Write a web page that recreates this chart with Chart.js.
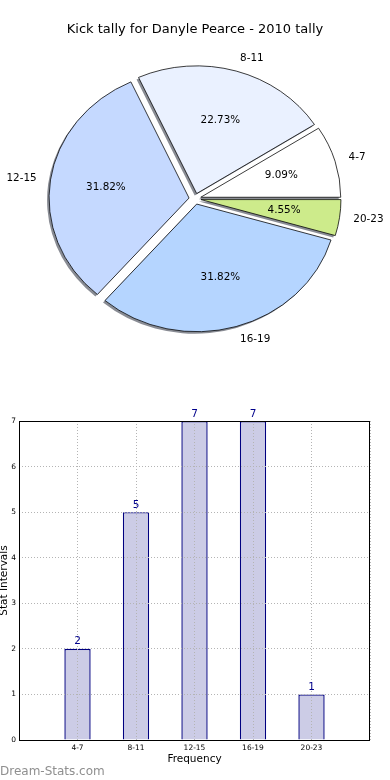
<!DOCTYPE html>
<html>
<head>
<meta charset="utf-8">
<script src="https://cdn.jsdelivr.net/npm/chart.js@4.4.1/dist/chart.umd.min.js"></script>
<style>
  html, body { margin: 0; padding: 0; background: #fff; }
  #pieBox { position: absolute; left: 0; top: 0; width: 390px; height: 360px; }
  #barBox { position: absolute; left: 0; top: 360px; width: 390px; height: 420px; }
</style>
</head>
<body>
<div id="pieBox"><canvas id="pieChart"></canvas></div>
<div id="barBox"><canvas id="barChart"></canvas></div>
<script>
// ── data ─────────────────────────────────────────────────────────────────────
const chartTitle = 'Kick tally for Danyle Pearce - 2010 tally';
const categories = ['4-7', '8-11', '12-15', '16-19', '20-23'];
const kicks = [2, 5, 7, 7, 1];
const pieColors = ['#ffffff', '#eaf1ff', '#c5d9ff', '#b5d5ff', '#cdeb8b'];
const yMax = 7;
const xTitle = 'Frequency';
const yTitle = 'Stat Intervals';
const watermark = 'Dream-Stats.com';

Chart.defaults.font.family = '"DejaVu Sans", sans-serif';
Chart.defaults.color = '#000';

// ── pie (matplotlib style: counter-clockwise, exploded, squashed, shadowed) ──
const SY = 0.912;     // vertical squash of the pie
const EXPLODE = 6;    // px each wedge is pushed out
const SHADOW = 2;     // shadow offset, left/down

// chart.js goes clockwise, so feed it the reversed order starting at 3 o'clock
const pieLabels = categories.slice().reverse();
const pieValues = kicks.slice().reverse();
const pieFill = pieColors.slice().reverse();

function squash(ctx, a) {
  ctx.translate(a.x, a.y);
  ctx.scale(1, SY);
  ctx.translate(-a.x, -a.y);
}

const ellipsePie = {
  id: 'ellipsePie',
  beforeDatasetsDraw(chart) {
    const ctx = chart.ctx;
    const arcs = chart.getDatasetMeta(0).data;
    // shadows first
    arcs.forEach((a) => {
      const mid = (a.startAngle + a.endAngle) / 2;
      ctx.save();
      ctx.translate(-SHADOW, SHADOW);
      squash(ctx, a);
      ctx.translate(Math.cos(mid) * EXPLODE, Math.sin(mid) * EXPLODE);
      ctx.beginPath();
      ctx.moveTo(a.x, a.y);
      ctx.arc(a.x, a.y, a.outerRadius, a.startAngle, a.endAngle);
      ctx.closePath();
      ctx.fillStyle = 'rgba(40,45,60,0.55)';
      ctx.fill();
      ctx.restore();
    });
    // wedges
    arcs.forEach((a) => {
      const mid = (a.startAngle + a.endAngle) / 2;
      ctx.save();
      squash(ctx, a);
      ctx.translate(Math.cos(mid) * EXPLODE, Math.sin(mid) * EXPLODE);
      a.draw(ctx);
      ctx.restore();
    });
    return false;
  },
  afterDraw(chart) {
    const ctx = chart.ctx;
    const arcs = chart.getDatasetMeta(0).data;
    const total = pieValues.reduce((s, v) => s + v, 0);
    ctx.save();
    ctx.font = '10.4px "DejaVu Sans"';
    ctx.fillStyle = '#000';
    ctx.textBaseline = 'middle';
    arcs.forEach((a, i) => {
      const mid = (a.startAngle + a.endAngle) / 2;
      const c = Math.cos(mid);
      const s = Math.sin(mid);
      const lr = EXPLODE + 1.1 * a.outerRadius;
      ctx.textAlign = c > 0 ? 'left' : 'right';
      ctx.fillText(pieLabels[i], a.x + lr * c, a.y + lr * s * SY);
      const pr = EXPLODE + 0.6 * a.outerRadius;
      ctx.textAlign = 'center';
      ctx.fillText((pieValues[i] / total * 100).toFixed(2) + '%', a.x + pr * c, a.y + pr * s * SY);
    });
    ctx.restore();
  },
};

new Chart(document.getElementById('pieChart'), {
  type: 'pie',
  data: {
    labels: pieLabels,
    datasets: [{
      data: pieValues,
      backgroundColor: pieFill,
      borderColor: '#000',
      borderWidth: 0.8,
    }],
  },
  options: {
    responsive: true,
    maintainAspectRatio: false,
    animation: false,
    rotation: 90,
    radius: 140,
    layout: { padding: 0 },
    plugins: {
      legend: { display: false },
      tooltip: { enabled: false },
      title: {
        display: true,
        text: chartTitle,
        color: '#000',
        font: { size: 13, weight: 'normal' },
        padding: { top: 22, bottom: 0 },
      },
    },
  },
  plugins: [ellipsePie],
});

// ── bar chart ────────────────────────────────────────────────────────────────
// empty slots either side give the -1 .. 5 x range of the original axes
const barLabels = ['', ...categories, ''];
const barValues = [null, ...kicks, null];

const barExtras = {
  id: 'barExtras',
  afterDraw(chart) {
    const ctx = chart.ctx;
    const { left, right, top, bottom } = chart.chartArea;
    ctx.save();
    // axes frame
    ctx.strokeStyle = '#000';
    ctx.lineWidth = 1;
    ctx.strokeRect(Math.round(left) + 0.5, Math.round(top) + 0.5,
      Math.round(right - left) - 1, Math.round(bottom - top));
    // value labels
    ctx.font = '10.5px "DejaVu Sans"';
    ctx.fillStyle = '#00008b';
    ctx.textAlign = 'center';
    ctx.textBaseline = 'alphabetic';
    chart.getDatasetMeta(0).data.forEach((bar, i) => {
      if (barValues[i] == null) return;
      ctx.fillText(String(barValues[i]), bar.x, bar.y - 4.5);
    });
    // y title, partly off the left edge like the original
    ctx.fillStyle = '#000';
    ctx.save();
    ctx.translate(6.5, (top + bottom) / 2);
    ctx.rotate(-Math.PI / 2);
    ctx.fillText(yTitle, 0, 0);
    ctx.restore();
    // watermark
    ctx.font = '12px "DejaVu Sans"';
    ctx.fillStyle = '#8f8f8f';
    ctx.textAlign = 'left';
    ctx.fillText(watermark, 0, 415);
    ctx.restore();
  },
};

const dotted = { display: false, dash: [1, 2] };

new Chart(document.getElementById('barChart'), {
  type: 'bar',
  data: {
    labels: barLabels,
    datasets: [{
      data: barValues,
      backgroundColor: '#ccccE6',
      borderColor: '#000080',
      borderWidth: 1.4,
      borderSkipped: 'start',
      barPercentage: 0.45,
      categoryPercentage: 1,
    }],
  },
  options: {
    responsive: true,
    maintainAspectRatio: false,
    animation: false,
    layout: { padding: { top: 61, right: 20, left: 0, bottom: 0 } },
    plugins: {
      legend: { display: false },
      tooltip: { enabled: false },
    },
    scales: {
      x: {
        offset: false,
        grid: { offset: false, color: '#b4b4b4', z: 1, drawTicks: false },
        border: dotted,
        ticks: { font: { size: 7.5 }, color: '#000', padding: 3.5, autoSkip: false, maxRotation: 0 },
        title: {
          display: true,
          text: xTitle,
          color: '#000',
          font: { size: 10.5 },
          padding: { top: 0, bottom: 14.7 },
        },
        afterFit: (s) => { s.height = 40; },
      },
      y: {
        min: 0,
        max: yMax,
        grid: { color: '#b4b4b4', z: 1, drawTicks: false },
        border: dotted,
        ticks: { stepSize: 1, font: { size: 7.5 }, color: '#000', padding: 3 },
        afterFit: (s) => { s.width = 19; },
      },
    },
  },
  plugins: [barExtras],
});
</script>
</body>
</html>
